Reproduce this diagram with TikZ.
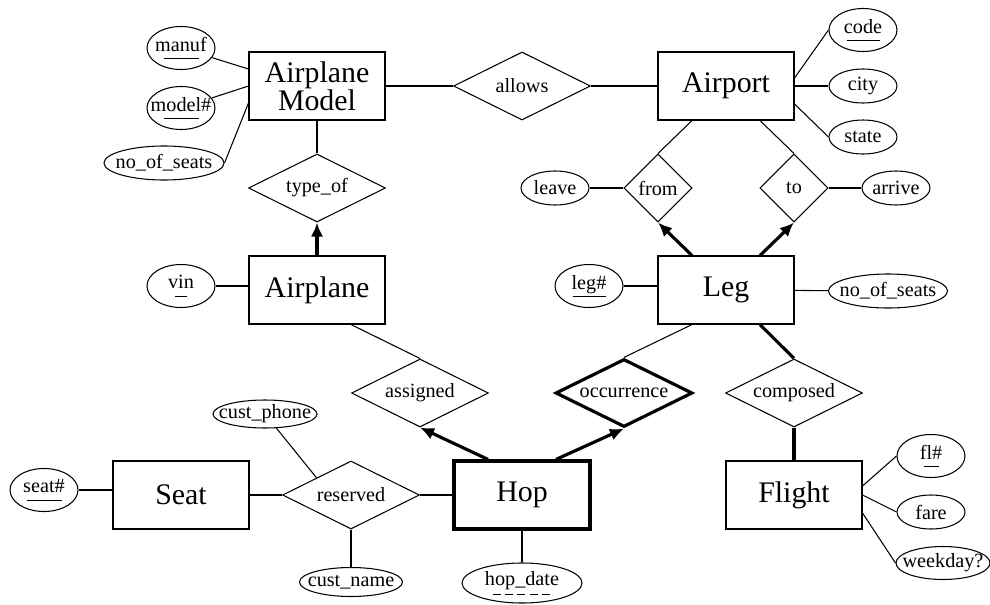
\documentclass[tikz,border=0pt]{standalone}
\usepackage{fontspec}
\setmainfont{Liberation Serif}
\usepackage{xcolor}
\usepackage{tikz}
\usetikzlibrary{shapes.geometric,arrows.meta}

\newcommand{\keyattr}[2]{#1\\[-7.5pt]\rule{#2}{0.5pt}}
\newcommand{\partkey}[2]{#1\\[-7pt]\hbox to #2{\leaders\hbox to 7pt{\hss\rule{4.5pt}{0.5pt}\hss}\hfill}}

\begin{document}
\begin{tikzpicture}[>={Latex[length=8pt,width=7pt]}, line width=0.6pt, font=\fontsize{11.5}{12}\selectfont]
    % Define styles
    \tikzstyle{entity} = [rectangle, draw, minimum width=2.72cm, minimum height=1.36cm, align=center, font=\fontsize{17}{16}\selectfont]
    \tikzstyle{weak} = [entity, line width=1.8pt]
    \tikzstyle{relation} = [diamond, draw, aspect=2, inner sep=0pt, minimum width=2.74cm, minimum height=1.36cm]
    \tikzstyle{smallrel} = [relation, aspect=1, minimum width=1.36cm]
    \tikzstyle{idrel} = [relation, line width=1.8pt]
    \tikzstyle{attr} = [ellipse, draw, inner xsep=-0.2cm, inner ysep=0pt, minimum width=1.36cm, minimum height=0.68cm, align=center]
    \tikzstyle{keyat} = [attr, minimum height=0.86cm]
    \tikzstyle{link} = [draw]
    \tikzstyle{total} = [draw, line width=1.8pt]
    \tikzstyle{toarrow} = [draw, ->, line width=1.8pt]

    \useasboundingbox (0,0) rectangle (19.8,12.08);

    % Entities
    \node [entity] (amodel) at (6.34,10.36) {Airplane\\Model};
    \node [entity] (airport) at (14.52,10.36) {Airport};
    \node [entity] (airplane) at (6.34,6.28) {Airplane};
    \node [entity] (leg) at (14.52,6.28) {Leg};
    \node [entity] (seat) at (3.62,2.18) {Seat};
    \node [weak] (hop) at (10.44,2.18) {Hop};
    \node [entity] (flight) at (15.88,2.18) {Flight};

    % Relationships
    \node [relation] (allows) at (10.44,10.36) {allows};
    \node [relation] (typeof) at (6.34,8.32) {type\_of};
    \node [smallrel] (from) at (13.16,8.32) {from};
    \node [smallrel] (to) at (15.88,8.32) {to};
    \node [relation] (assigned) at (8.40,4.22) {assigned};
    \node [idrel] (occurrence) at (12.48,4.22) {occurrence};
    \node [relation] (composed) at (15.88,4.22) {composed};
    \node [relation] (reserved) at (7.02,2.18) {reserved};

    % Attributes
    \node [keyat] (manuf) at (3.62,11.12) {\keyattr{manuf}{0.7cm}};
    \node [keyat] (modelno) at (3.62,9.92) {\keyattr{model\#}{0.7cm}};
    \node [attr, minimum width=2.4cm] (mseats) at (3.28,8.82) {no\_of\_seats};
    \node [keyat] (code) at (17.26,11.48) {\keyattr{code}{0.66cm}};
    \node [attr] (city) at (17.26,10.36) {city};
    \node [attr] (state) at (17.26,9.34) {state};
    \node [attr] (leave) at (11.10,8.32) {leave};
    \node [attr] (arrive) at (17.92,8.32) {arrive};
    \node [keyat] (vin) at (3.62,6.36) {\keyattr{vin}{0.24cm}};
    \node [keyat] (legno) at (11.78,6.36) {\keyattr{leg\#}{0.66cm}};
    \node [attr, minimum width=2.38cm] (lseats) at (17.76,6.26) {no\_of\_seats};
    \node [keyat] (seatno) at (0.88,2.28) {\keyattr{seat\#}{0.7cm}};
    \node [attr, minimum width=2.08cm, minimum height=0.56cm] (custphone) at (5.30,3.80) {cust\_phone};
    \node [attr, minimum width=2.06cm, minimum height=0.58cm] (custname) at (7.02,0.44) {cust\_name};
    \node [keyat, minimum width=2.4cm, minimum height=0.8cm] (hopdate) at (10.44,0.42) {\partkey{hop\_date}{1.26cm}};
    \node [keyat] (flno) at (18.62,2.96) {\keyattr{fl\#}{0.3cm}};
    \node [attr] (fare) at (18.62,1.84) {fare};
    \node [attr, minimum width=1.88cm, minimum height=0.66cm] (weekday) at (18.86,0.82) {weekday?};

    % Airplane Model side
    \draw [link] (manuf) -- ([yshift=0.34cm]amodel.west);
    \draw [link] (modelno) -- (amodel.west);
    \draw [link] (mseats.east) -- ([yshift=-0.34cm]amodel.west);
    \draw [link] (amodel) -- (allows) -- (airport);
    \draw [link] (amodel) -- (typeof);
    \draw [toarrow] (airplane) -- (typeof);
    \draw [link] (vin.east) -- (vin.east -| airplane.west);

    % Airport side
    \draw [link] ([yshift=0.16cm]airport.east) -- (code.west);
    \draw [link] (airport) -- (city);
    \draw [link] ([yshift=-0.36cm]airport.east) -- (state.west);
    \draw [link] ([xshift=-0.68cm]airport.south) -- (from.north);
    \draw [link] ([xshift=0.68cm]airport.south) -- (to.north);
    \draw [link] (leave) -- (from);
    \draw [link] (to) -- (arrive);
    \draw [toarrow] ([xshift=-0.68cm]leg.north) -- (from.south);
    \draw [toarrow] ([xshift=0.68cm]leg.north) -- (to.south);
    \draw [link] (legno.east) -- (legno.east -| leg.west);
    \draw [link] (leg) -- (lseats);

    % Hop and its relationships
    \draw [link] ([xshift=0.68cm]airplane.south) -- (assigned.north);
    \draw [link] ([xshift=-0.68cm]leg.south) -- (occurrence.north);
    \draw [total] ([xshift=0.68cm]leg.south) -- (composed.north);
    \draw [total] (composed) -- (flight);
    \draw [toarrow] ([xshift=-0.68cm]hop.north) -- (assigned.south);
    \draw [toarrow] ([xshift=0.68cm]hop.north) -- (occurrence.south);
    \draw [link] (seatno.east) -- (seatno.east -| seat.west);
    \draw [link] (seat) -- (reserved) -- (hop);
    \draw [link] (custphone) -- (reserved.north west);
    \draw [link] (reserved) -- (custname);
    \draw [link] (hop) -- (hopdate);

    % Flight attributes
    \draw [link] ([yshift=0.18cm]flight.east) -- (flno.west);
    \draw [link] (flight.east) -- (fare.west);
    \draw [link] ([yshift=-0.36cm]flight.east) -- (weekday.west);
\end{tikzpicture}
\end{document}
